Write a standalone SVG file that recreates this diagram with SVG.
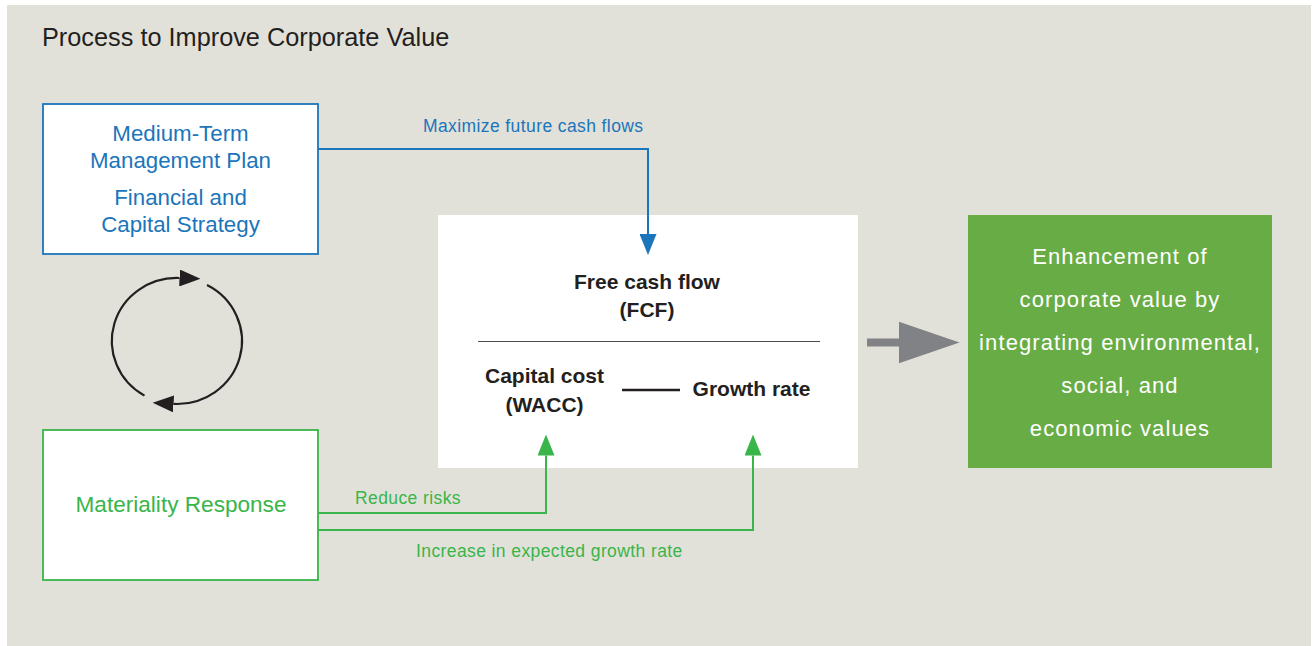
<svg xmlns="http://www.w3.org/2000/svg" width="1315" height="646" viewBox="0 0 1315 646">
  <defs>
    <style>
      text { font-family: "Liberation Sans", Arial, sans-serif; }
      .title { font-size: 25.3px; fill: #231f20; }
      .blue-txt { font-size: 22.3px; fill: #1b75bb; text-anchor: middle; }
      .green-txt { font-size: 22.6px; fill: #39b54a; text-anchor: middle; }
      .lbl-blue { font-size: 17.5px; fill: #1b75bb; letter-spacing: 0.4px; }
      .lbl-green { font-size: 17.5px; fill: #39b54a; letter-spacing: 0.4px; }
      .bold { font-size: 21px; font-weight: bold; fill: #231f20; text-anchor: middle; }
      .value { font-size: 22px; fill: #ffffff; text-anchor: middle; letter-spacing: 1.1px; }
      .wire-blue { fill: none; stroke: #1b75bb; stroke-width: 2; }
      .wire-green { fill: none; stroke: #39b54a; stroke-width: 2; }
      .cycle { fill: none; stroke: #231f20; stroke-width: 2.2; }
    </style>
    <marker id="head-blue" viewBox="0 0 21 17" refX="0" refY="8.5" markerWidth="21" markerHeight="17" markerUnits="userSpaceOnUse" orient="auto">
      <path d="M0,0 L21,8.5 L0,17 Z" fill="#1b75bb"/>
    </marker>
    <marker id="head-green" viewBox="0 0 21 17" refX="0" refY="8.5" markerWidth="21" markerHeight="17" markerUnits="userSpaceOnUse" orient="auto">
      <path d="M0,0 L21,8.5 L0,17 Z" fill="#39b54a"/>
    </marker>
    <marker id="head-dark" viewBox="0 0 21 17" refX="0" refY="8.5" markerWidth="21" markerHeight="17" markerUnits="userSpaceOnUse" orient="auto">
      <path d="M0,0 L21,8.5 L0,17 Z" fill="#231f20"/>
    </marker>
  </defs>

  <!-- panel background -->
  <rect x="7" y="5" width="1304" height="641" fill="#e2e1d9"/>
  <text class="title" x="42" y="46">Process to Improve Corporate Value</text>

  <g id="plan">
    <rect x="43" y="104" width="275" height="150" fill="#ffffff" stroke="#1b75bb" stroke-width="1.8"/>
    <text class="blue-txt" x="180.5" y="141">Medium-Term</text>
    <text class="blue-txt" x="180.5" y="168">Management Plan</text>
    <text class="blue-txt" x="180.5" y="205">Financial and</text>
    <text class="blue-txt" x="180.5" y="232">Capital Strategy</text>
  </g>

  <g id="materiality">
    <rect x="43" y="430" width="275" height="150" fill="#ffffff" stroke="#39b54a" stroke-width="1.8"/>
    <text class="green-txt" x="181" y="512">Materiality Response</text>
  </g>

  <g id="valuation">
    <rect x="438" y="215" width="420" height="253" fill="#ffffff"/>
    <text class="bold" x="647" y="289">Free cash flow</text>
    <text class="bold" x="647" y="317">(FCF)</text>
    <line x1="478" y1="341.5" x2="820" y2="341.5" stroke="#4d4d4f" stroke-width="1.2"/>
    <text class="bold" x="544.5" y="383">Capital cost</text>
    <text class="bold" x="544.5" y="412">(WACC)</text>
    <line x1="622" y1="390" x2="680" y2="390" stroke="#231f20" stroke-width="2.6"/>
    <text class="bold" x="751.5" y="396">Growth rate</text>
  </g>

  <g id="corporate-value">
    <rect x="968" y="215" width="304" height="253" fill="#68ac45"/>
    <text class="value" x="1120" y="263.5">Enhancement of</text>
    <text class="value" x="1120" y="306.5">corporate value by</text>
    <text class="value" x="1120" y="349.5">integrating environmental,</text>
    <text class="value" x="1120" y="392.5">social, and</text>
    <text class="value" x="1120" y="435.5">economic values</text>
  </g>

  <!-- connectors, drawn above the boxes so the heads stay visible -->
  <g id="connectors">
    <path class="wire-blue" d="M318,149 H648 V234" marker-end="url(#head-blue)"/>
    <text class="lbl-blue" x="423" y="132">Maximize future cash flows</text>

    <path class="wire-green" d="M318,513 H546 V455.5" marker-end="url(#head-green)"/>
    <text class="lbl-green" x="355" y="504">Reduce risks</text>

    <path class="wire-green" d="M318,530 H753 V455.5" marker-end="url(#head-green)"/>
    <text class="lbl-green" x="416" y="557">Increase in expected growth rate</text>

    <!-- cycle between plan and materiality -->
    <path class="cycle" d="M144.5,395.6 A65,63 0 0 1 179.5,278" marker-end="url(#head-dark)"/>
    <path class="cycle" d="M207,285.1 A65,63 0 0 1 173.6,403.9" marker-end="url(#head-dark)"/>

    <!-- result arrow -->
    <path d="M867,338.5 H899 V321.7 L959.5,342.5 L899,363.3 V346.5 H867 Z" fill="#808285"/>
  </g>
</svg>
